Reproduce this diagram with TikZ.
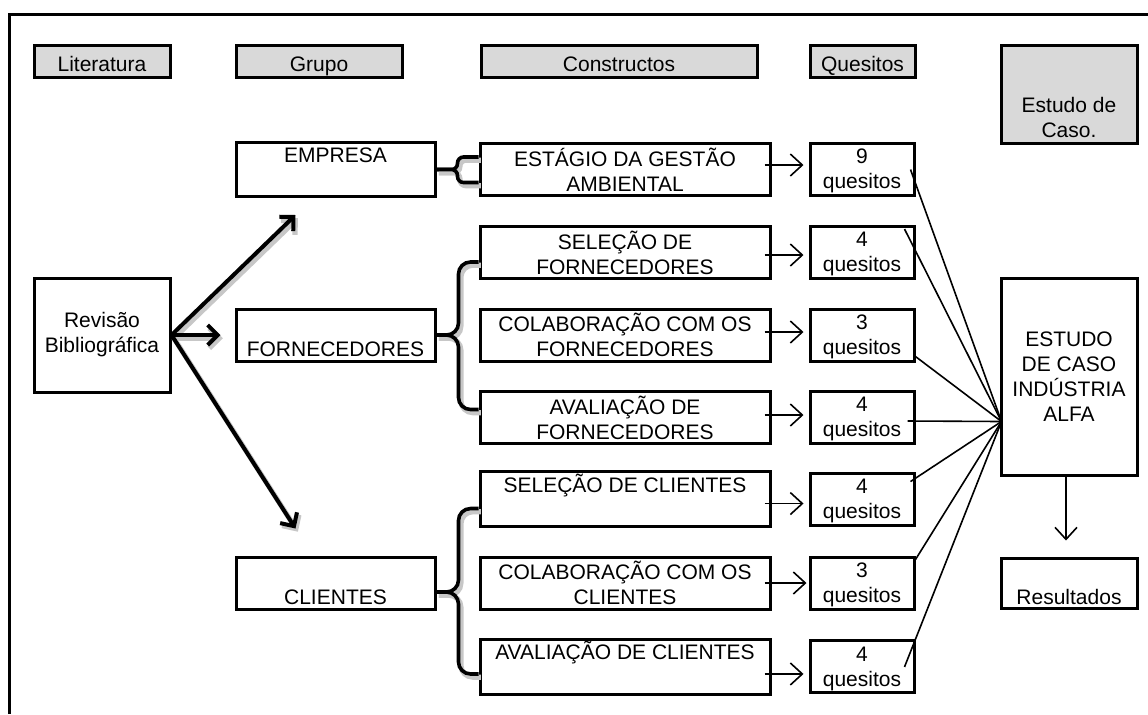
\documentclass[tikz,border=0pt]{standalone}
\usepackage{fontspec}
\setmainfont{Liberation Sans}
\usetikzlibrary{arrows.meta,positioning,calc}

\begin{document}
\begin{tikzpicture}[x=0.5pt,y=-0.5pt,font=\fontsize{10.5}{12.5}\selectfont]
\colorlet{header fill}{black!15}
\colorlet{shadow}{black!22}
\tikzset{
     caixa/.style={draw, line width=1.5pt, align=center, inner sep=1pt, minimum height=26pt},
     cabec/.style={caixa, fill=header fill, minimum height=16pt},
     titulo/.style={cabec, text height=11pt, text depth=1pt},
     grupo/.style={caixa, minimum width=99.5pt},
     constr/.style={caixa, minimum width=145pt},
     quesito/.style={caixa, minimum width=52pt},
     seta/.style={line width=0.8pt, -{Straight Barb[length=6pt,width=11pt]}},
     linha/.style={line width=0.8pt},
     sombra/.style={preaction={draw=shadow, line width=2.6pt, transform canvas={shift={(1.2pt,-1.6pt)}}}},
     grossa/.style={sombra, line width=2pt, line cap=round, -{Straight Barb[length=5pt,width=10pt]}},
     chave/.style={sombra, line width=1.8pt, rounded corners=6pt}}

\useasboundingbox (0,0) rectangle (1148,714);

% The frame
\draw[line width=1.5pt] (9,714) -- (9,14) -- (1148,14);

% The headers
\node (literatura)  at (102,61)   [titulo, minimum width=68pt] {Literatura};
\node (grupo)       at (319,61)   [titulo, minimum width=83pt] {Grupo};
\node (constructos) at (619,61)   [titulo, minimum width=138pt] {Constructos};
\node (quesitos)    at (862.5,61) [titulo, minimum width=52.5pt] {Quesitos};
\node (estudo)      at (1069,94)  [cabec, minimum width=68pt, minimum height=49pt] {\strut\\\strut\\[-2.5pt]Estudo de\\Caso.};

% Literatura and grupos
\node (revisao)      at (102,335)     [caixa, minimum width=68pt, minimum height=57pt] {Revisão\\Bibliográfica};
\node (empresa)      at (335.5,169.5) [grupo] {\strut EMPRESA\\\strut};
\node (fornecedores) at (335.5,335)   [grupo] {\strut\\FORNECEDORES};
\node (clientes)     at (335.5,583)   [grupo] {\strut\\CLIENTES};

% The constructos
\node (estagio)    [constr, right=21pt of empresa] {\strut ESTÁGIO DA GESTÃO\\AMBIENTAL};
\node (colabforn)  [constr, right=21pt of fornecedores] {COLABORAÇÃO COM OS\\FORNECEDORES};
\node (selforn)    [constr, above=13.75pt of colabforn] {SELEÇÃO DE\\FORNECEDORES};
\node (avalforn)   [constr, below=13.75pt of colabforn] {AVALIAÇÃO DE\\FORNECEDORES};
\node (colabcli)   [constr, right=21pt of clientes] {COLABORAÇÃO COM OS\\CLIENTES};
\node (selcli)     [constr, above=13.75pt of colabcli] {\strut SELEÇÃO DE CLIENTES\\\strut};
\node (avalcli)    [constr, below=13.75pt of colabcli] {\strut AVALIAÇÃO DE CLIENTES\\\strut};

% The quesitos
\node (q1) [quesito, right=18.5pt of estagio]   {\strut 9\\quesitos};
\node (q2) [quesito, right=18.5pt of selforn]   {\strut 4\\quesitos};
\node (q3) [quesito, right=18.5pt of colabforn] {\strut 3\\quesitos};
\node (q4) [quesito, right=18.5pt of avalforn]  {\strut 4\\quesitos};
\node (q5) [quesito, right=18.5pt of selcli]    {\strut 4\\quesitos};
\node (q6) [quesito, right=18.5pt of colabcli]  {\strut 3\\quesitos};
\node (q7) [quesito, right=18.5pt of avalcli]   {\strut 4\\quesitos};

% Estudo de caso and resultados
\node (caso)       at (1069,376.5) [caixa, minimum width=68pt, minimum height=98.5pt] {ESTUDO\\DE CASO\\INDÚSTRIA\\ALFA};
\node (resultados) at (1069,583)   [caixa, minimum width=68pt, minimum height=25pt] {\strut\\Resultados};

% Revisao to grupos
\draw[grossa] (revisao.east) -- ([xshift=30.5pt,yshift=-8.5pt]empresa.south west);
\draw[grossa, shorten >=7pt] (revisao.east) -- (fornecedores.west);
\draw[grossa] (revisao.east) -- ([xshift=30.5pt,yshift=13.5pt]clientes.north west);

% The braces
\draw[chave, rounded corners=3pt] (empresa.east) -- ++(21,0) |- ([yshift=6.25pt]estagio.west);
\draw[chave, rounded corners=3pt] (empresa.east) -- ++(21,0) |- ([yshift=-6.5pt]estagio.west);
\draw[chave] (fornecedores.east) -- ++(22,0) |- ([yshift=-4.75pt]selforn.west);
\draw[chave] (fornecedores.east) -- ++(22,0) |- ([yshift=4pt]avalforn.west);
\draw[chave] ([yshift=-4.5pt]clientes.east) -- ++(22,0) |- ([yshift=-4.75pt]selcli.west);
\draw[chave] ([yshift=-4.5pt]clientes.east) -- ++(22,0) |- ([yshift=-3.5pt]avalcli.west);

% Constructos to quesitos
\draw[seta, shorten >=2.5pt] ([xshift=-3.5pt,yshift=2.25pt]estagio.east)   -- ([yshift=2.25pt]q1.west);
\draw[seta, shorten >=2.5pt] ([xshift=-3.5pt,yshift=-1.25pt]selforn.east)  -- ([yshift=-1.25pt]q2.west);
\draw[seta, shorten >=2.5pt] ([xshift=-3.5pt,yshift=1.5pt]colabforn.east) -- ([yshift=1.5pt]q3.west);
\draw[seta, shorten >=2.5pt] ([xshift=-3.5pt,yshift=1.25pt]avalforn.east)  -- ([yshift=1.25pt]q4.west);
\draw[seta, shorten >=2.5pt] ([xshift=-3.5pt,yshift=-2.25pt]selcli.east)   -- ([yshift=-2.25pt]q5.west);
\draw[seta, shorten >=1pt]   ([xshift=-3.5pt]colabcli.east)                -- (q6.west);
\draw[seta, shorten >=2.5pt] ([xshift=-3.5pt,yshift=-3.5pt]avalcli.east)   -- ([yshift=-3.5pt]q7.west);

% Quesitos to estudo de caso
\coordinate (hub) at ([xshift=1pt,yshift=-22.5pt]caso.west);
\draw[linha] ([xshift=-2.5pt]q1.east) -- (hub);
\draw[linha] ([xshift=-5.5pt,yshift=-2pt]q2.north east) -- (hub);
\draw[linha] ([yshift=3pt]q3.south east) -- (hub);
\draw[linha] ([xshift=-4pt,yshift=-1.75pt]q4.east) -- (hub);
\draw[linha] ([xshift=-2.5pt,yshift=-5pt]q5.north east) -- (hub);
\draw[linha] ([yshift=-2pt]q6.north east) -- (hub);
\draw[linha] ([xshift=-5.5pt]q7.east) -- (hub);

\draw[seta, shorten >=8pt] ([xshift=-1.5pt]caso.south) -- ([xshift=-1.5pt]resultados.north);
\end{tikzpicture}
\end{document}
